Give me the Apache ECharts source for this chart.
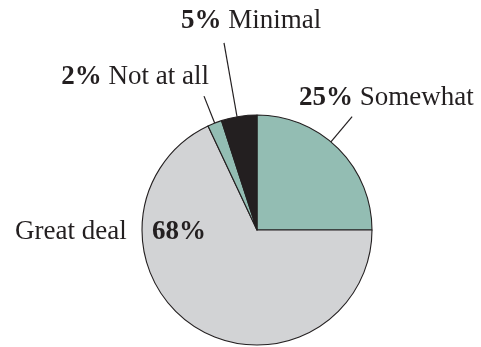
<!DOCTYPE html>
<html>
<head>
<meta charset="utf-8">
<script src="https://cdn.jsdelivr.net/npm/echarts@6/dist/echarts.min.js"></script>
<style>
  html, body { margin: 0; padding: 0; background: #fff; }
  #chart { width: 481px; height: 347px; }
</style>
</head>
<body>
<div id="chart"></div>
<script>
// Slices, clockwise from 12 o'clock
const categories = ['Somewhat', 'Great deal', 'Not at all', 'Minimal'];
const shares = [25, 68, 2, 5];
const sliceColors = ['#93bdb3', '#d2d3d5', '#93bdb3', '#231f20'];

const INK = '#231f20';
const FONT = '"Liberation Serif", "Times New Roman", serif';
const FONT_SIZE = 27;
const PIE_CENTER = [257, 230];
const PIE_RADIUS = 115;

// Callout placement per slice: rim anchor shift (deg), leader length, label position
const callouts = [
  { shift: -5, len: 33, x: 299, y: 98, align: 'left' },
  { len: 0, x: 15, y: 232, align: 'left' },
  { shift: 0, len: 29, x: 209, y: 77, align: 'right' },
  { shift: -1, len: 75, x: 181, y: 21, align: 'left' }
];

const chart = echarts.init(document.getElementById('chart'), null, { renderer: 'canvas' });

chart.setOption({
  animation: false,
  backgroundColor: '#fff',
  series: [{
    type: 'pie',
    center: PIE_CENTER,
    radius: PIE_RADIUS,
    startAngle: 90,
    clockwise: true,
    avoidLabelOverlap: false,
    silent: true,
    itemStyle: { borderColor: INK, borderWidth: 1.1 },
    label: {
      show: true,
      position: 'outside',
      color: INK,
      fontFamily: FONT,
      fontSize: FONT_SIZE,
      formatter: function (p) {
        if (p.dataIndex === 1) {
          return '{n|' + p.name + '}{v|' + p.value + '%}';
        }
        return '{v|' + p.value + '%} {n|' + p.name + '}';
      },
      rich: {
        v: { fontFamily: FONT, fontSize: FONT_SIZE, fontWeight: 'bold', color: INK },
        n: { fontFamily: FONT, fontSize: FONT_SIZE, color: INK }
      }
    },
    labelLine: {
      show: true,
      lineStyle: { color: INK, width: 1.2 }
    },
    labelLayout: function (p) {
      const c = callouts[p.dataIndex];
      const out = { x: c.x, y: c.y, align: c.align, verticalAlign: 'middle' };
      if (c.len && p.labelLinePoints) {
        const a = p.labelLinePoints[0];
        const cx = PIE_CENTER[0], cy = PIE_CENTER[1];
        const ang = Math.atan2(a[0] - cx, cy - a[1]) + c.shift * Math.PI / 180;
        const s = Math.sin(ang), k = Math.cos(ang);
        out.labelLinePoints = [
          [cx + PIE_RADIUS * s, cy - PIE_RADIUS * k],
          [cx + (PIE_RADIUS + c.len) * s, cy - (PIE_RADIUS + c.len) * k]
        ];
      }
      return out;
    },
    data: categories.map(function (name, i) {
      const item = {
        name: name,
        value: shares[i],
        itemStyle: { color: sliceColors[i] }
      };
      if (i === 1) {
        item.labelLine = { show: false };
        item.label = {
          rich: {
            n: { fontFamily: FONT, fontSize: FONT_SIZE, color: INK, width: 137 },
            v: { fontFamily: FONT, fontSize: FONT_SIZE, fontWeight: 'bold', color: INK }
          }
        };
      }
      return item;
    })
  }]
});
</script>
</body>
</html>
